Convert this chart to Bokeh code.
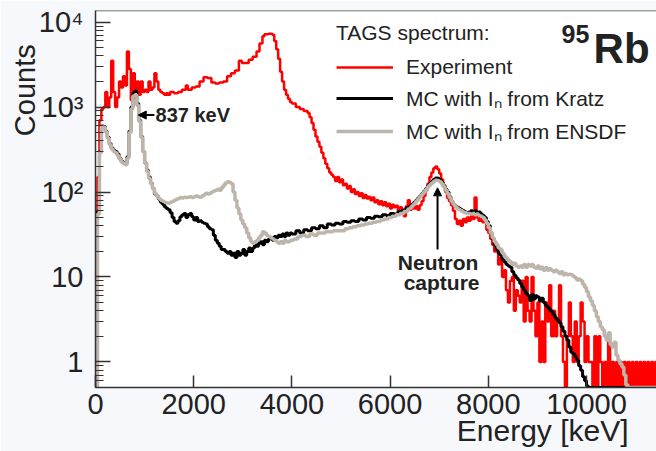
import numpy as np
from bokeh.plotting import figure
from bokeh.models import (Range1d, FixedTicker, Label, Arrow, NormalHead, Span,
                          Legend, LegendItem)
from bokeh.embed import file_html
from bokeh.resources import INLINE

# ---------------- data (bin start energy [keV], counts) ----------------
exp_energy = [0, 40, 80, 120, 160, 200, 240, 280, 320, 360, 400, 440, 480, 520, 560, 600,
              640, 680, 720, 760, 800, 840, 880, 920, 960, 1000, 1040, 1080, 1120, 1160,
              1200, 1240, 1280, 1320, 1360, 1400, 1440, 1480, 1520, 1600, 1680, 1760, 1840,
              1880, 1960, 2040, 2120, 2200, 2280, 2360, 2440, 2520, 2600, 2680, 2760, 2840,
              2920, 2980, 3040, 3120, 3200, 3280, 3340, 3400, 3440, 3520, 3600, 3640, 3680,
              3720, 3760, 3800, 3840, 3880, 3920, 3960, 4000, 4080, 4160, 4240, 4320, 4360,
              4400, 4440, 4480, 4520, 4560, 4600, 4640, 4680, 4720, 4760, 4800, 4840, 4880,
              4920, 4960, 5000, 5040, 5080, 5120, 5160, 5200, 5240, 5280, 5320, 5360, 5400,
              5440, 5480, 5520, 5560, 5600, 5640, 5680, 5720, 5760, 5800, 5840, 5880, 5920,
              5960, 6000, 6040, 6080, 6120, 6160, 6200, 6240, 6280, 6320, 6360, 6400, 6440,
              6480, 6520, 6560, 6600, 6640, 6680, 6720, 6760, 6800, 6840, 6880, 6920, 6960,
              7000, 7040, 7080, 7120, 7160, 7200, 7240, 7280, 7320, 7360, 7400, 7440, 7480,
              7520, 7560, 7600, 7640, 7680, 7720, 7760, 7800, 7840, 7880, 7920, 7960, 8000,
              8040, 8080, 8120, 8160, 8200, 8240, 8280, 8320, 8360, 8400, 8440, 8480, 8520,
              8560, 8600, 8640, 8680, 8720, 8760, 8800, 8840, 8880, 8920, 8960, 9000, 9040,
              9080, 9120, 9160, 9200, 9240, 9280, 9320, 9360, 9400, 9440, 9480, 9520, 9560,
              9600, 9640, 9680, 9720, 9760, 9800, 9840, 9880, 9920, 9960, 10000, 10040,
              10080, 10120, 10160, 10200, 10240, 10280, 10320, 10360, 10400, 10440, 10480,
              10520, 10560, 10600, 10640, 10680, 10720, 10760, 10800, 10840, 10880, 10920,
              10960, 11000, 11040, 11080, 11120, 11160, 11200, 11240, 11280, 11320, 11360,
              11400, 11440]
exp_counts = [0, 150, 700, 950, 1000, 1500, 1000, 1300, 3500, 1500, 1000, 1300, 2000, 1700,
              2300, 1800, 4500, 2800, 1200, 2500, 1300, 2000, 1400, 2000, 1500, 1600, 1500,
              2000, 1600, 1700, 2500, 2000, 1600, 1500, 1450, 1400, 1450, 1400, 1500, 1450,
              1500, 1600, 1800, 1600, 1700, 1750, 2000, 2250, 2200, 1950, 1900, 1950, 2000,
              2300, 2500, 2700, 3500, 3300, 3300, 3600, 3900, 4500, 5600, 6800, 7200, 7300,
              7100, 6000, 4800, 3700, 2600, 2000, 1600, 1400, 1250, 1150, 1100, 1000, 950,
              900, 850, 760, 650, 540, 450, 390, 340, 290, 250, 215, 190, 170, 160, 150, 135,
              150, 130, 140, 120, 125, 110, 118, 100, 108, 95, 100, 90, 97, 85, 92, 84, 88,
              80, 86, 76, 80, 72, 78, 70, 76, 68, 73, 64, 71, 66, 69, 58, 66, 62, 52, 68, 80,
              62, 70, 64, 68, 62, 70, 78, 90, 105, 125, 150, 170, 190, 200, 185, 165, 140,
              120, 100, 85, 78, 70, 60, 48, 42, 46, 40, 48, 44, 50, 46, 52, 48, 86, 50, 46,
              50, 44, 46, 36, 33, 28, 24, 20, 22, 14, 17, 10, 12, 7, 5, 9, 10, 4, 7, 6, 5, 9,
              3, 10, 4, 3, 10, 4, 2, 5, 1, 3, 1, 5, 3, 8, 2, 4, 2, 3, 8, 2, 1, 0, 2, 5, 2, 1,
              3, 1, 2, 5, 3, 1, 2, 1, 1, 0, 2, 0, 2, 1, 0, 1, 0, 2, 0, 1, 0, 1, 0, 1, 0, 1,
              0, 1, 0, 1, 0, 1, 0, 1, 0, 1, 0, 1, 0, 1, 0, 1, 0]

kratz_energy = [0, 40, 80, 120, 160, 200, 240, 280, 320, 360, 400, 440, 480, 520, 560, 600,
                640, 680, 720, 760, 800, 840, 880, 920, 960, 1000, 1040, 1080, 1120, 1160,
                1200, 1240, 1280, 1320, 1360, 1400, 1440, 1480, 1520, 1560, 1600, 1640, 1680,
                1720, 1760, 1800, 1840, 1880, 1920, 1960, 2000, 2040, 2080, 2120, 2160, 2200,
                2240, 2280, 2320, 2360, 2400, 2440, 2480, 2520, 2560, 2600, 2640, 2680, 2720,
                2760, 2800, 2840, 2880, 2920, 2960, 3000, 3040, 3080, 3120, 3160, 3200, 3240,
                3280, 3320, 3360, 3400, 3440, 3480, 3520, 3560, 3600, 3640, 3680, 3720, 3760,
                3800, 3840, 3880, 3920, 3960, 4000, 4080, 4160, 4240, 4320, 4400, 4480, 4560,
                4640, 4720, 4800, 4880, 4960, 5040, 5120, 5200, 5280, 5360, 5440, 5520, 5600,
                5680, 5760, 5840, 5920, 6000, 6080, 6160, 6240, 6320, 6400, 6440, 6480, 6520,
                6560, 6600, 6640, 6680, 6720, 6760, 6800, 6840, 6880, 6920, 6960, 7000, 7040,
                7080, 7120, 7160, 7200, 7240, 7280, 7320, 7360, 7400, 7440, 7480, 7520, 7560,
                7600, 7640, 7680, 7720, 7760, 7800, 7840, 7880, 7920, 7960, 8000, 8040, 8080,
                8120, 8160, 8200, 8240, 8280, 8320, 8360, 8400, 8440, 8480, 8520, 8560, 8600,
                8640, 8680, 8720, 8760, 8800, 8840, 8880, 8920, 8960, 9000, 9040, 9080, 9120,
                9160, 9200, 9240, 9280, 9320, 9360, 9400, 9440, 9480, 9520, 9560, 9600, 9640,
                9680, 9720, 9760, 9800, 9840, 9880, 9920, 9960, 10000, 10040, 10720]
kratz_counts = [0, 60, 300, 600, 590, 520, 440, 370, 330, 310, 300, 280, 250, 230, 220, 215,
                260, 520, 1000, 1450, 1550, 1100, 700, 450, 300, 220, 180, 150, 127, 110, 95,
                90, 82, 76, 72, 67, 64, 62, 57, 50, 45, 43, 46, 51, 54, 56, 50, 54, 56, 51,
                47, 50, 45, 46, 44, 43, 42, 39, 37, 36, 31, 27, 25, 23, 21, 21, 20, 19, 20, 18,
                19, 17, 20, 18, 19, 21, 18, 20, 22, 20, 22, 24, 23, 25, 26, 24, 27, 26, 28, 29,
                27, 30, 29, 31, 30, 32, 30, 33, 31, 33, 32, 35, 33, 36, 35, 38, 37, 40, 38, 42,
                41, 43, 42, 45, 44, 46, 45, 48, 47, 50, 49, 52, 51, 54, 53, 56, 55, 59, 61, 65,
                69, 72, 76, 80, 85, 90, 96, 102, 110, 118, 126, 134, 141, 146, 145, 140, 130,
                118, 108, 100, 88, 78, 72, 68, 66, 64, 62, 60, 58, 57, 58, 60, 58, 60, 57, 58,
                55, 53, 50, 45, 40, 33, 28, 24, 21, 19, 18, 16, 15, 14, 13.5, 13, 11.5, 10.5,
                9.8, 9.2, 8.4, 7.6, 7, 6.4, 6, 5.3, 6.2, 5.5, 6, 5.8, 5.2, 5.6, 5, 4.6, 4.4,
                4.1, 3.9, 3.6, 3.3, 3.1, 2.9, 2.6, 2.3, 2, 1.8, 1.5, 1.3, 1.25, 1.15, 1.05,
                0.9, 0.8, 0.67, 0.6, 0.52, 0, 0]

ensdf_energy = [0, 40, 80, 120, 160, 200, 240, 280, 320, 360, 400, 440, 480, 520, 560, 600,
                640, 680, 720, 760, 800, 840, 880, 920, 960, 1000, 1040, 1080, 1120, 1160,
                1200, 1240, 1280, 1320, 1360, 1400, 1440, 1480, 1520, 1560, 1600, 1640, 1680,
                1720, 1760, 1800, 1840, 1880, 1920, 1960, 2000, 2040, 2080, 2120, 2160, 2200,
                2240, 2280, 2320, 2360, 2400, 2440, 2480, 2520, 2560, 2600, 2640, 2680, 2720,
                2760, 2800, 2840, 2880, 2920, 2960, 3000, 3040, 3080, 3120, 3160, 3200, 3240,
                3280, 3320, 3360, 3400, 3440, 3480, 3520, 3560, 3600, 3640, 3680, 3720, 3760,
                3800, 3840, 3880, 3960, 4040, 4120, 4200, 4280, 4360, 4440, 4520, 4600, 4680,
                4760, 4840, 4920, 5000, 5080, 5160, 5240, 5320, 5400, 5480, 5560, 5640, 5720,
                5800, 5880, 5960, 6040, 6120, 6200, 6280, 6360, 6400, 6440, 6480, 6520, 6560,
                6600, 6640, 6680, 6720, 6760, 6800, 6840, 6880, 6920, 6960, 7000, 7040, 7080,
                7120, 7160, 7200, 7240, 7280, 7320, 7360, 7400, 7440, 7480, 7520, 7560, 7600,
                7640, 7680, 7720, 7760, 7800, 7840, 7880, 7920, 7960, 8000, 8040, 8080, 8120,
                8160, 8200, 8240, 8280, 8320, 8360, 8400, 8440, 8480, 8520, 8560, 8600, 8640,
                8680, 8720, 8760, 8800, 8840, 8880, 8920, 8960, 9000, 9040, 9080, 9120, 9160,
                9200, 9240, 9280, 9320, 9360, 9400, 9440, 9480, 9520, 9560, 9600, 9640, 9680,
                9720, 9760, 9800, 9840, 9880, 9920, 9960, 10000, 10040, 10080, 10120, 10160,
                10200, 10240, 10280, 10320, 10360, 10400, 10440, 10480, 10520, 10560, 10600,
                10640, 10680, 10720, 10760, 10800, 10840, 11440]
ensdf_counts = [0, 55, 290, 590, 580, 510, 430, 360, 320, 300, 290, 270, 245, 225, 215, 210,
                250, 500, 950, 1350, 1400, 1050, 680, 440, 300, 220, 175, 145, 125, 110, 97,
                90, 84, 80, 78, 76, 75, 74, 76, 78, 80, 82, 84, 86, 85, 87, 86, 87, 88, 86, 88,
                90, 88, 87, 90, 93, 97, 95, 97, 100, 103, 105, 108, 105, 112, 120, 128, 132,
                130, 125, 100, 80, 65, 55, 47, 42, 38, 33, 29, 26, 25, 26, 27, 29, 31, 34, 33,
                31, 30, 29, 28, 27, 26, 25, 26, 25, 27, 26, 27, 28, 30, 31, 30, 32, 31, 33, 33,
                34, 34, 35, 35, 35, 37, 38, 39, 40, 41, 42, 43, 44, 45, 47, 48, 50, 52, 54, 56,
                59, 63, 65, 69, 73, 78, 83, 88, 94, 100, 107, 115, 122, 128, 134, 138, 137, 133,
                125, 115, 105, 96, 86, 78, 72, 67, 64, 62, 60, 58, 57, 56, 56, 55, 56, 54, 55,
                53, 52, 50, 47, 43, 38, 33, 29, 26, 24, 22, 21, 19, 17.5, 16.5, 15.5, 15, 14,
                14.5, 13.5, 13, 13.5, 13, 14, 13, 14, 13.5, 14, 13, 12.7, 13.5, 12.5, 13, 12,
                12.8, 12, 12.5, 12, 11.5, 12, 11.5, 11, 11.5, 10.6, 11, 10.6, 10.8, 10.6, 10.2,
                9.8, 9.2, 9.4, 9.0, 8.2, 7.5, 6.7, 5.8, 5.2, 4.6, 4.0, 3.4, 3.0, 2.6, 2.4, 2.0,
                1.8, 2.2, 1.6, 1.5, 1.7, 1.2, 1.05, 0.95, 0.87, 0.7, 0.54, 0, 0]

x_ticks = [0, 2000, 4000, 6000, 8000, 10000]
y_ticks = [1, 10, 100, 1000, 10000]
y_tick_labels = {1: "1", 10: "10", 100: "10\u00b2", 1000: "10\u00b3", 10000: "10\u2074"}
series_labels = ["Experiment", "MC with I\u2099 from Kratz", "MC with I\u2099 from ENSDF"]
x_title = "Energy [keV]"
y_title = "Counts"

# ---------------- figure ----------------
X0, X1 = 0, 11425
Y0, Y1 = 0.5, 13700
FONT = "Liberation Sans"
TXT = "#222222"

p = figure(width=656, height=451, output_backend="svg", toolbar_location=None,
           x_range=Range1d(X0, X1), y_range=Range1d(Y0, Y1), y_axis_type="log",
           min_border_left=95, min_border_right=0, min_border_top=10, min_border_bottom=64)
p.border_fill_color = "#f7f8fc"
p.background_fill_color = "white"
p.outline_line_color = None
p.grid.visible = False


def steps(e, c, width=40):
    x = list(e) + [e[-1] + width]
    y = [v if v > 0 else Y0 for v in c] + [c[-1] if c[-1] > 0 else Y0]
    return x, y


xe, ye = steps(exp_energy, exp_counts)
xk, yk = steps(kratz_energy, kratz_counts)
xs, ys = steps(ensdf_energy, ensdf_counts)
r_exp = p.step(xe, ye, mode="after", line_color="#ff0000", line_width=2.5)
r_kr = p.step(xk, yk, mode="after", line_color="#000000", line_width=3)
r_en = p.step(xs, ys, mode="after", line_color="#bdb5ab", line_width=3.5)

# axes
for ax in (p.xaxis[0], p.yaxis[0]):
    ax.axis_line_color = "#333333"
    ax.axis_line_width = 1.5
    ax.major_tick_line_color = "#333333"
    ax.major_tick_line_width = 1.5
    ax.minor_tick_line_color = "#333333"
    ax.minor_tick_line_width = 1.2
    ax.major_tick_out = 0
    ax.minor_tick_out = 0
    ax.major_label_text_font = FONT
    ax.major_label_text_font_size = "29px"
    ax.major_label_text_color = TXT
    ax.axis_label_text_font = FONT
    ax.axis_label_text_font_style = "normal"
    ax.axis_label_text_color = TXT

p.xaxis.ticker = FixedTicker(ticks=x_ticks)
p.xaxis.major_tick_in = 12
p.xaxis.minor_tick_line_color = None
p.xaxis.major_label_standoff = 6

minor = [m * 10.0 ** k for k in range(-1, 5) for m in range(2, 10)]
p.yaxis.ticker = FixedTicker(ticks=y_ticks, minor_ticks=minor)
p.yaxis.major_label_overrides = y_tick_labels
p.yaxis.major_tick_in = 15
p.yaxis.minor_tick_in = 8
p.yaxis.major_label_standoff = 12

p.add_layout(Span(location=Y1, dimension="width", line_color="#444444", line_width=1.5))

# axis titles: centred axis labels, pushed toward the far end with leading no-break spaces
NB = "\u00a0"
p.xaxis.axis_label = NB * 40 + x_title
p.xaxis.axis_label_text_font_size = "30px"
p.xaxis.axis_label_standoff = -3
p.yaxis.axis_label = NB * 27 + y_title
p.yaxis.axis_label_text_font_size = "29px"
p.yaxis.axis_label_standoff = -5

# legend
legend = Legend(items=[LegendItem(label=series_labels[0], renderers=[r_exp]),
                       LegendItem(label=series_labels[1], renderers=[r_kr]),
                       LegendItem(label=series_labels[2], renderers=[r_en])],
                location=(241, 242), title="TAGS spectrum:",
                title_text_font=FONT, title_text_font_size="21px",
                title_text_font_style="normal", title_text_color=TXT, title_standoff=10,
                label_text_font=FONT, label_text_font_size="21px", label_text_color=TXT,
                glyph_width=57, glyph_height=20, label_height=20, label_standoff=13,
                spacing=5, padding=0, margin=0, border_line_color=None,
                background_fill_alpha=0)
p.add_layout(legend)

# nucleus tag
p.add_layout(Label(x=9492, y=7320, text="95", text_font=FONT, text_font_size="25px",
                   text_font_style="bold", text_color=TXT, text_baseline="alphabetic"))
p.add_layout(Label(x=10144, y=4890, text="Rb", text_font=FONT, text_font_size="42px",
                   text_font_style="bold", text_color=TXT, text_baseline="alphabetic"))

# annotations
p.add_layout(Arrow(end=NormalHead(size=8, fill_color="black", line_color="black"),
                   x_start=1200, y_start=805, x_end=870, y_end=805,
                   line_color="black", line_width=2))
p.add_layout(Label(x=1222, y=805, text="837 keV", text_font=FONT, text_font_size="20px",
                   text_font_style="bold", text_color=TXT, text_baseline="alphabetic"))
p.add_layout(Arrow(end=NormalHead(size=8, fill_color="black", line_color="black"),
                   x_start=6966, y_start=21, x_end=6966, y_end=112,
                   line_color="black", line_width=2))
p.add_layout(Label(x=6977, y=14.7, text="Neutron", text_font=FONT, text_font_size="21px",
                   text_font_style="bold", text_color=TXT, text_align="center",
                   text_baseline="alphabetic"))
p.add_layout(Label(x=7048, y=8.57, text="capture", text_font=FONT, text_font_size="21px",
                   text_font_style="bold", text_color=TXT, text_align="center",
                   text_baseline="alphabetic"))

open("out.html", "w").write(file_html(p, INLINE))
